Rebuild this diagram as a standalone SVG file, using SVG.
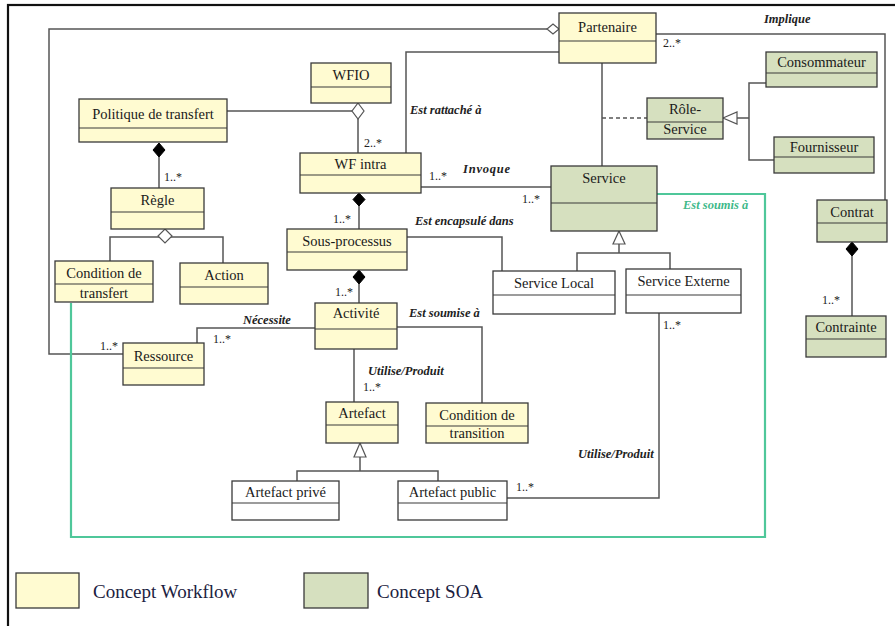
<svg xmlns="http://www.w3.org/2000/svg" width="895" height="626" viewBox="0 0 895 626">
<style>
.wf{fill:#FFFBD1;stroke:#3a3a3a;stroke-width:1.3}
.soa{fill:#D6E0BF;stroke:#3a3a3a;stroke-width:1.3}
.pl{fill:#ffffff;stroke:#3a3a3a;stroke-width:1.3}
.dv{stroke:#3a3a3a;stroke-width:1.2}
.t{font-family:"Liberation Serif",serif;font-size:14.5px;fill:#1a1a1a;text-anchor:middle}
.l{font-family:"Liberation Serif",serif;font-size:12.5px;font-style:italic;font-weight:bold;fill:#222}
.m{font-family:"Liberation Serif",serif;font-size:12px;fill:#222}
.c{stroke:#555;stroke-width:1.5;fill:none}
.dash{stroke:#555;stroke-width:1.5;fill:none;stroke-dasharray:4 3}
.g{stroke:#4fc79a;stroke-width:2.2;fill:none}
.fd{fill:#000;stroke:#000;stroke-width:1}
.hd{fill:#fff;stroke:#555;stroke-width:1.2}
.lg{font-family:"Liberation Serif",serif;font-size:19px;fill:#1b2140}
</style>
<rect x="0" y="0" width="895" height="626" fill="#ffffff"/>
<rect x="8" y="5" width="900" height="700" fill="none" stroke="#111" stroke-width="2.2"/>

<g id="connectors">
  <!-- Partenaire aggregation to Ressource -->
  <polyline class="c" points="547,29 49,29 49,354 123,354"/>
  <polygon class="hd" points="559,29 553,24 547,29 553,34"/>
  <text class="m" x="100" y="350">1..*</text>
  <!-- Est rattaché à -->
  <polyline class="c" points="559,52 406,52 406,153"/>
  <text class="l" x="410" y="114">Est rattaché à</text>
  <!-- Politique to WFIO -->
  <line class="c" x1="227" y1="111" x2="352" y2="111"/>
  <line class="c" x1="358" y1="119" x2="358" y2="153"/>
  <polygon class="hd" points="358,103 364,111 358,119 352,111"/>
  <text class="m" x="364" y="147">2..*</text>
  <!-- Invoque -->
  <line class="c" x1="421" y1="187" x2="551" y2="187"/>
  <text class="m" x="429" y="180">1..*</text>
  <text class="l" x="463" y="173" letter-spacing="0.8">Invoque</text>
  <text class="m" x="522" y="203">1..*</text>
  <!-- Partenaire to Service -->
  <line class="c" x1="602" y1="63" x2="602" y2="166"/>
  <line class="dash" x1="602" y1="118" x2="647" y2="118"/>
  <!-- Rôle-Service generalization -->
  <polyline class="c" points="766,83 749,83 749,160 774,160"/>
  <line class="c" x1="737" y1="118" x2="749" y2="118"/>
  <polygon class="hd" points="723,118 737,112 737,124"/>
  <!-- Implique -->
  <polyline class="c" points="656,34 885,34 885,200"/>
  <text class="m" x="663" y="47">2..*</text>
  <text class="l" x="764" y="23">Implique</text>
  <!-- Contrat composition -->
  <line class="c" x1="852" y1="256" x2="852" y2="316"/>
  <polygon class="fd" points="852,242 858,249 852,256 846,249"/>
  <text class="m" x="822" y="304">1..*</text>
  <!-- Est soumis à (green) -->
  <polyline class="g" points="657,194 765,194 765,537 71,537 71,303"/>
  <text class="l" x="683" y="209" fill="#3fb98a" style="fill:#3fb98a">Est soumis à</text>
  <!-- Politique composition Règle -->
  <line class="c" x1="159" y1="157" x2="159" y2="188"/>
  <polygon class="fd" points="159,143 165,150 159,157 153,150"/>
  <text class="m" x="164" y="181">1..*</text>
  <!-- Règle aggregation -->
  <polyline class="c" points="110,261 110,237 223,237 223,263"/>
  <polygon class="hd" points="165,229 172,236 165,243 158,236"/>
  <!-- WF intra composition Sous-processus -->
  <line class="c" x1="359" y1="206" x2="359" y2="229"/>
  <polygon class="fd" points="359,193 365,199.5 359,206 353,199.5"/>
  <text class="m" x="333" y="223">1..*</text>
  <!-- Est encapsulé dans -->
  <polyline class="c" points="407,237 502,237 502,271"/>
  <text class="l" x="415" y="225">Est encapsulé dans</text>
  <!-- Service generalization -->
  <polyline class="c" points="577,271 577,253 670,253 670,269"/>
  <line class="c" x1="619" y1="244" x2="619" y2="253"/>
  <polygon class="hd" points="619,231 625,244 613,244"/>
  <!-- Service Externe to Artefact public -->
  <polyline class="c" points="659,313 659,498 507,498"/>
  <text class="m" x="663" y="329">1..*</text>
  <text class="l" x="578" y="458">Utilise/Produit</text>
  <text class="m" x="516" y="491">1..*</text>
  <!-- Sous-processus composition Activité -->
  <line class="c" x1="359" y1="284" x2="359" y2="303"/>
  <polygon class="fd" points="359,270 365,277 359,284 353,277"/>
  <text class="m" x="335" y="296">1..*</text>
  <!-- Nécessite -->
  <polyline class="c" points="315,328 197,328 197,343"/>
  <text class="l" x="243" y="324">Nécessite</text>
  <text class="m" x="213" y="343">1..*</text>
  <!-- Est soumise à -->
  <polyline class="c" points="397,327 482,327 482,403"/>
  <text class="l" x="409" y="317">Est soumise à</text>
  <!-- Activité to Artefact -->
  <line class="c" x1="354" y1="349" x2="354" y2="402"/>
  <text class="l" x="368" y="375">Utilise/Produit</text>
  <text class="m" x="363" y="391">1..*</text>
  <!-- Artefact generalization -->
  <polyline class="c" points="297,481 297,471 438,471 438,481"/>
  <line class="c" x1="360" y1="457" x2="360" y2="471"/>
  <polygon class="hd" points="360,443 366,457 354,457"/>
</g>

<g id="partenaire">
  <rect class="wf" x="559" y="13" width="97" height="50"/>
  <line class="dv" x1="559" y1="41" x2="656" y2="41"/>
  <text class="t" x="607.5" y="32">Partenaire</text>
</g>
<g id="wfio">
  <rect class="wf" x="311" y="63" width="80" height="40"/>
  <line class="dv" x1="311" y1="87" x2="391" y2="87"/>
  <text class="t" x="351" y="80">WFIO</text>
</g>
<g id="politique">
  <rect class="wf" x="79" y="99" width="148" height="43"/>
  <line class="dv" x1="79" y1="128" x2="227" y2="128"/>
  <text class="t" x="153" y="119">Politique de transfert</text>
</g>
<g id="wfintra">
  <rect class="wf" x="300" y="153" width="121" height="40"/>
  <line class="dv" x1="300" y1="175" x2="421" y2="175"/>
  <text class="t" x="360.5" y="169">WF intra</text>
</g>
<g id="service">
  <rect class="soa" x="551" y="166" width="106" height="65"/>
  <line class="dv" x1="551" y1="203" x2="657" y2="203"/>
  <text class="t" x="604" y="183">Service</text>
</g>
<g id="role-service">
  <rect class="soa" x="647" y="98" width="76" height="41"/>
  <line class="dv" x1="647" y1="122" x2="723" y2="122"/>
  <text class="t" x="685" y="114">Rôle-</text>
  <text class="t" x="685" y="134">Service</text>
</g>
<g id="consommateur">
  <rect class="soa" x="766" y="52" width="111" height="35"/>
  <line class="dv" x1="766" y1="73" x2="877" y2="73"/>
  <text class="t" x="821.5" y="67">Consommateur</text>
</g>
<g id="fournisseur">
  <rect class="soa" x="774" y="137" width="100" height="36"/>
  <line class="dv" x1="774" y1="157" x2="874" y2="157"/>
  <text class="t" x="824" y="152">Fournisseur</text>
</g>
<g id="contrat">
  <rect class="soa" x="817" y="200" width="70" height="42"/>
  <line class="dv" x1="817" y1="223" x2="887" y2="223"/>
  <text class="t" x="852" y="217">Contrat</text>
</g>
<g id="contrainte">
  <rect class="soa" x="806" y="316" width="80" height="41"/>
  <line class="dv" x1="806" y1="339" x2="886" y2="339"/>
  <text class="t" x="846" y="332">Contrainte</text>
</g>
<g id="regle">
  <rect class="wf" x="111" y="188" width="93" height="41"/>
  <line class="dv" x1="111" y1="212" x2="204" y2="212"/>
  <text class="t" x="157.5" y="205">Règle</text>
</g>
<g id="condition-transfert">
  <rect class="wf" x="55" y="261" width="98" height="41"/>
  <line class="dv" x1="55" y1="284" x2="153" y2="284"/>
  <text class="t" x="104" y="278">Condition de</text>
  <text class="t" x="104" y="298">transfert</text>
</g>
<g id="action">
  <rect class="wf" x="180" y="263" width="88" height="41"/>
  <line class="dv" x1="180" y1="287" x2="268" y2="287"/>
  <text class="t" x="224" y="280">Action</text>
</g>
<g id="sous-processus">
  <rect class="wf" x="287" y="229" width="120" height="41"/>
  <line class="dv" x1="287" y1="252" x2="407" y2="252"/>
  <text class="t" x="347" y="246">Sous-processus</text>
</g>
<g id="service-local">
  <rect class="pl" x="493" y="271" width="122" height="43"/>
  <line class="dv" x1="493" y1="295" x2="615" y2="295"/>
  <text class="t" x="554" y="288">Service Local</text>
</g>
<g id="service-externe">
  <rect class="pl" x="626" y="269" width="115" height="44"/>
  <line class="dv" x1="626" y1="295" x2="741" y2="295"/>
  <text class="t" x="683.5" y="286">Service Externe</text>
</g>
<g id="activite">
  <rect class="wf" x="315" y="303" width="82" height="46"/>
  <line class="dv" x1="315" y1="329" x2="397" y2="329"/>
  <text class="t" x="356" y="318">Activité</text>
</g>
<g id="ressource">
  <rect class="wf" x="123" y="343" width="81" height="42"/>
  <line class="dv" x1="123" y1="368" x2="204" y2="368"/>
  <text class="t" x="163.5" y="361">Ressource</text>
</g>
<g id="artefact">
  <rect class="wf" x="326" y="402" width="72" height="41"/>
  <line class="dv" x1="326" y1="425" x2="398" y2="425"/>
  <text class="t" x="362" y="418">Artefact</text>
</g>
<g id="condition-transition">
  <rect class="wf" x="426" y="403" width="102" height="40"/>
  <line class="dv" x1="426" y1="426" x2="528" y2="426"/>
  <text class="t" x="477" y="420">Condition de</text>
  <text class="t" x="477" y="438">transition</text>
</g>
<g id="artefact-prive">
  <rect class="pl" x="232" y="481" width="107" height="39"/>
  <line class="dv" x1="232" y1="503" x2="339" y2="503"/>
  <text class="t" x="285.5" y="497">Artefact privé</text>
</g>
<g id="artefact-public">
  <rect class="pl" x="398" y="481" width="109" height="39"/>
  <line class="dv" x1="398" y1="503" x2="507" y2="503"/>
  <text class="t" x="452.5" y="497">Artefact public</text>
</g>

<g id="legend">
  <rect class="wf" x="16" y="573" width="63" height="35"/>
  <text class="lg" x="93" y="598">Concept Workflow</text>
  <rect class="soa" x="304" y="573" width="64" height="35"/>
  <text class="lg" x="377" y="598">Concept SOA</text>
</g>
</svg>
